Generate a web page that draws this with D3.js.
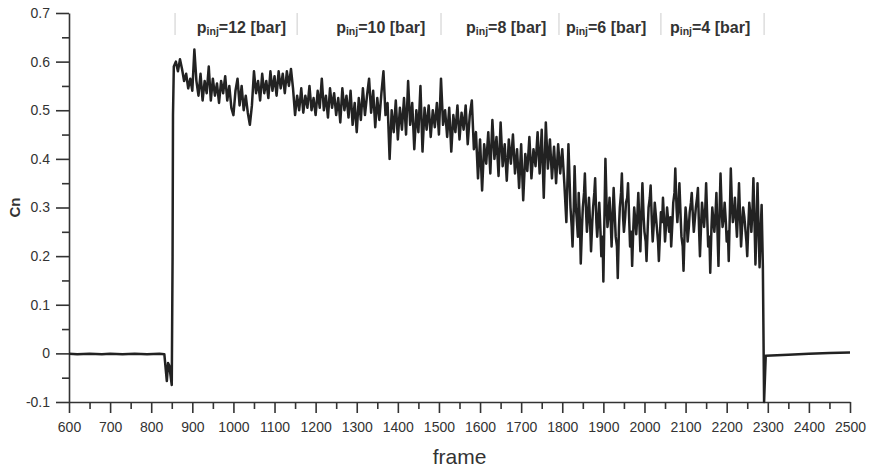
<!DOCTYPE html>
<html>
<head>
<meta charset="utf-8">
<script src="https://cdn.jsdelivr.net/npm/d3@7"></script>
<style>
  body { margin: 0; background: #fff; }
  svg { display: block; font-family: "Liberation Sans", Arial, sans-serif; }
</style>
</head>
<body>
<div id="chart"></div>
<script>
// Cn vs frame ([frame, Cn])
const before = [[600,-0.001],[620,-0.002],[650,-0.001],[680,-0.002],[700,-0.001],[730,-0.002],[760,-0.001],
  [790,-0.002],[820,-0.001],[832,-0.002],[835,-0.03],[838,-0.057],[841,-0.02],[844,-0.025],[847,-0.045],
  [850,-0.065],[852,0.2],[853,0.49]];

const p12 = [[855,0.59],[860,0.6],[865,0.58],[870,0.605],[875,0.585],[880,0.56],[885,0.575],[890,0.545],
  [895,0.565],[900,0.54],[905,0.625],[910,0.56],[915,0.53],[920,0.575],[925,0.52],[930,0.56],[935,0.535],
  [940,0.59],[945,0.52],[950,0.565],[955,0.53],[960,0.555],[965,0.515],[970,0.56],[975,0.535],[980,0.57],
  [985,0.52],[990,0.55],[995,0.505],[1000,0.49],[1005,0.54],[1010,0.565],[1015,0.51],[1020,0.55],
  [1025,0.5],[1030,0.53],[1035,0.495],[1040,0.47],[1045,0.51],[1050,0.58],[1055,0.535],[1060,0.56],
  [1065,0.52],[1070,0.575],[1075,0.535],[1080,0.56],[1085,0.525],[1090,0.58],[1095,0.54],[1100,0.57],
  [1105,0.53],[1110,0.58],[1115,0.545],[1120,0.575],[1125,0.535],[1130,0.58],[1135,0.55],[1140,0.585],
  [1145,0.545],[1150,0.49],[1155,0.53]];

const p10 = [[1160,0.5],[1165,0.545],[1170,0.495],[1175,0.53],[1180,0.505],[1185,0.55],[1190,0.5],
  [1195,0.525],[1200,0.49],[1205,0.54],[1210,0.505],[1215,0.565],[1220,0.5],[1225,0.53],[1230,0.485],
  [1235,0.545],[1240,0.505],[1245,0.535],[1250,0.49],[1255,0.525],[1260,0.475],[1265,0.545],[1270,0.5],
  [1275,0.53],[1280,0.485],[1285,0.54],[1290,0.47],[1295,0.515],[1300,0.455],[1305,0.525],[1310,0.48],
  [1315,0.545],[1320,0.49],[1325,0.53],[1330,0.565],[1335,0.495],[1340,0.54],[1345,0.465],[1350,0.525],
  [1355,0.48],[1360,0.535],[1365,0.58],[1370,0.49],[1375,0.515],[1380,0.4],[1385,0.5],[1390,0.455],
  [1395,0.52],[1400,0.44],[1405,0.505],[1410,0.46],[1415,0.525],[1420,0.45],[1425,0.56],[1430,0.47],
  [1435,0.515],[1440,0.42],[1445,0.5],[1450,0.455],[1455,0.55],[1460,0.415],[1465,0.505],[1470,0.46],
  [1475,0.51],[1480,0.445],[1485,0.5],[1490,0.465],[1495,0.515],[1500,0.45]];

const p8 = [[1505,0.565],[1510,0.47],[1515,0.5],[1520,0.445],[1525,0.505],[1530,0.415],[1535,0.49],
  [1540,0.455],[1545,0.51],[1550,0.44],[1555,0.495],[1560,0.46],[1565,0.51],[1570,0.43],[1575,0.49],
  [1580,0.52],[1585,0.42],[1590,0.455],[1595,0.36],[1600,0.44],[1605,0.335],[1610,0.43],[1615,0.39],
  [1620,0.455],[1625,0.37],[1630,0.48],[1635,0.4],[1640,0.445],[1645,0.365],[1650,0.475],[1655,0.385],
  [1660,0.43],[1665,0.355],[1670,0.44],[1675,0.39],[1680,0.45],[1685,0.37],[1690,0.42],[1695,0.34],
  [1700,0.43],[1705,0.315],[1710,0.41],[1715,0.375],[1720,0.445],[1725,0.36],[1730,0.42],[1735,0.385],
  [1740,0.455],[1745,0.37],[1750,0.46],[1755,0.32],[1760,0.475],[1765,0.38],[1770,0.44],[1775,0.36],
  [1780,0.425],[1785,0.35],[1790,0.43],[1795,0.37],[1800,0.42]];

const p6 = [[1805,0.35],[1810,0.27],[1815,0.43],[1820,0.3],[1823,0.26],[1825,0.22],[1828,0.3],[1830,0.385],
  [1833,0.3],[1835,0.28],[1838,0.24],[1840,0.33],[1843,0.27],[1845,0.185],[1848,0.26],[1850,0.3],
  [1853,0.33],[1855,0.37],[1858,0.29],[1860,0.25],[1863,0.29],[1865,0.32],[1868,0.26],[1870,0.21],
  [1873,0.27],[1875,0.3],[1878,0.33],[1880,0.36],[1883,0.27],[1885,0.24],[1888,0.28],[1890,0.31],
  [1893,0.25],[1895,0.2],[1898,0.24],[1900,0.148],[1903,0.3],[1905,0.4],[1908,0.3],[1910,0.26],
  [1913,0.29],[1915,0.32],[1918,0.27],[1920,0.22],[1923,0.29],[1925,0.34],[1928,0.28],[1930,0.24],
  [1933,0.22],[1935,0.155],[1938,0.26],[1940,0.3],[1943,0.33],[1945,0.37],[1948,0.28],[1950,0.25],
  [1953,0.28],[1955,0.31],[1958,0.32],[1960,0.35],[1963,0.27],[1965,0.22],[1968,0.25],[1970,0.18],
  [1973,0.26],[1975,0.3],[1978,0.27],[1980,0.245],[1983,0.29],[1985,0.33],[1988,0.26],[1990,0.21],
  [1993,0.3],[1995,0.35],[1998,0.28],[2000,0.25],[2003,0.23],[2005,0.19],[2008,0.26],[2010,0.3],
  [2013,0.32],[2015,0.345],[2018,0.27],[2020,0.23],[2023,0.27],[2025,0.31],[2028,0.28],[2030,0.26],
  [2033,0.23],[2035,0.19],[2038,0.25],[2040,0.29]];

const p4 = [[2043,0.27],[2045,0.32],[2048,0.27],[2050,0.23],[2053,0.27],[2055,0.3],[2058,0.27],[2060,0.25],
  [2063,0.28],[2065,0.22],[2068,0.27],[2070,0.31],[2073,0.33],[2075,0.38],[2078,0.3],[2080,0.27],
  [2083,0.31],[2085,0.35],[2088,0.28],[2090,0.24],[2093,0.22],[2095,0.17],[2098,0.26],[2100,0.3],
  [2103,0.27],[2105,0.23],[2108,0.26],[2110,0.29],[2113,0.31],[2115,0.33],[2118,0.28],[2120,0.25],
  [2123,0.28],[2125,0.3],[2128,0.32],[2130,0.34],[2133,0.25],[2135,0.2],[2138,0.27],[2140,0.31],
  [2143,0.28],[2145,0.26],[2148,0.3],[2150,0.35],[2153,0.27],[2155,0.22],[2158,0.24],[2160,0.166],
  [2163,0.26],[2165,0.3],[2168,0.27],[2170,0.25],[2173,0.29],[2175,0.33],[2178,0.24],[2180,0.18],
  [2183,0.3],[2185,0.37],[2188,0.29],[2190,0.26],[2193,0.28],[2195,0.31],[2198,0.27],[2200,0.23],
  [2203,0.25],[2205,0.19],[2208,0.3],[2210,0.38],[2213,0.3],[2215,0.27],[2218,0.29],[2220,0.32],
  [2223,0.27],[2225,0.24],[2228,0.3],[2230,0.35],[2233,0.27],[2235,0.22],[2238,0.27],[2240,0.3],
  [2243,0.28],[2245,0.26],[2248,0.23],[2250,0.2],[2253,0.27],[2255,0.31],[2258,0.28],[2260,0.25],
  [2263,0.3],[2265,0.36],[2268,0.26],[2270,0.183],[2273,0.28],[2275,0.35],[2278,0.24],[2280,0.177],
  [2283,0.26],[2285,0.305],[2288,0.18]];

const after = [[2291,-0.1],[2295,-0.005],[2350,-0.003],[2400,-0.001],[2450,0.001],[2500,0.002]];

// injection pressure bands at the top
const pressures = [12, 10, 8, 6, 4];
const labelFrames = [911, 1250, 1566, 1809, 2062];
const separators = [858, 1155, 1505, 1792, 2040, 2291];

const yTicks = [-0.1, 0, 0.1, 0.2, 0.3, 0.4, 0.5, 0.6, 0.7];

const width = 870, height = 470;
const margin = { top: 13, right: 20, bottom: 68, left: 69 };

const svg = d3.select('#chart').append('svg')
  .attr('width', width)
  .attr('height', height);

const x = d3.scaleLinear().domain([600, 2500]).range([margin.left, width - margin.right]);
const y = d3.scaleLinear().domain([-0.1, 0.7]).range([height - margin.bottom, margin.top]);

const axisColor = '#333';

// minor ticks first, major axis on top
svg.append('g')
  .attr('transform', `translate(0,${y(-0.1)})`)
  .call(d3.axisBottom(x).tickValues(d3.range(650, 2500, 100)).tickSize(7).tickFormat(''))
  .call(g => g.select('.domain').remove());

svg.append('g')
  .attr('transform', `translate(${x(600)},0)`)
  .call(d3.axisLeft(y).tickValues(d3.range(-0.05, 0.7, 0.1)).tickSize(7).tickFormat(''))
  .call(g => g.select('.domain').remove());

const xAxis = svg.append('g')
  .attr('transform', `translate(0,${y(-0.1)})`)
  .call(d3.axisBottom(x).ticks(19).tickSize(11).tickSizeOuter(0).tickPadding(9).tickFormat(d3.format('d')));

const yAxis = svg.append('g')
  .attr('transform', `translate(${x(600)},0)`)
  .call(d3.axisLeft(y).tickValues(yTicks).tickSize(13).tickSizeOuter(0).tickPadding(6)
    .tickFormat(d => d === 0 ? '0' : d.toFixed(1)));

svg.selectAll('.tick line, .domain')
  .attr('stroke', axisColor)
  .attr('stroke-width', 1.6);

[xAxis, yAxis].forEach(a => a.selectAll('text')
  .attr('fill', axisColor)
  .style('font-size', '14px'));

// axis titles
svg.append('text')
  .attr('x', (x(600) + x(2500)) / 2)
  .attr('y', 464)
  .attr('text-anchor', 'middle')
  .attr('fill', axisColor)
  .style('font-size', '21px')
  .text('frame');

svg.append('text')
  .attr('transform', `translate(20,${y(0.3)}) rotate(-90)`)
  .attr('text-anchor', 'middle')
  .attr('fill', axisColor)
  .style('font-size', '15px')
  .style('font-weight', 'bold')
  .text('Cn');

// separators and pressure labels
svg.append('g')
  .selectAll('line')
  .data(separators)
  .join('line')
  .attr('x1', d => x(d)).attr('x2', d => x(d))
  .attr('y1', 13).attr('y2', 35)
  .attr('stroke', '#ccc')
  .attr('stroke-width', 1);

const lab = svg.append('g')
  .selectAll('text')
  .data(pressures)
  .join('text')
  .attr('x', (d, i) => x(labelFrames[i]))
  .attr('y', 33)
  .attr('fill', axisColor)
  .style('font-size', '16px')
  .style('font-weight', 'bold');

lab.append('tspan').text('p');
lab.append('tspan').attr('dy', 2).style('font-size', '10.5px').text('inj');
lab.append('tspan').attr('dy', -2).text(d => `=${d} [bar]`);

// the signal
const data = [].concat(before, p12, p10, p8, p6, p4, after);

svg.append('path')
  .datum(data)
  .attr('fill', 'none')
  .attr('stroke', '#222')
  .attr('stroke-width', 2.5)
  .attr('stroke-linejoin', 'round')
  .attr('d', d3.line().x(d => x(d[0])).y(d => y(d[1])));
</script>
</body>
</html>
